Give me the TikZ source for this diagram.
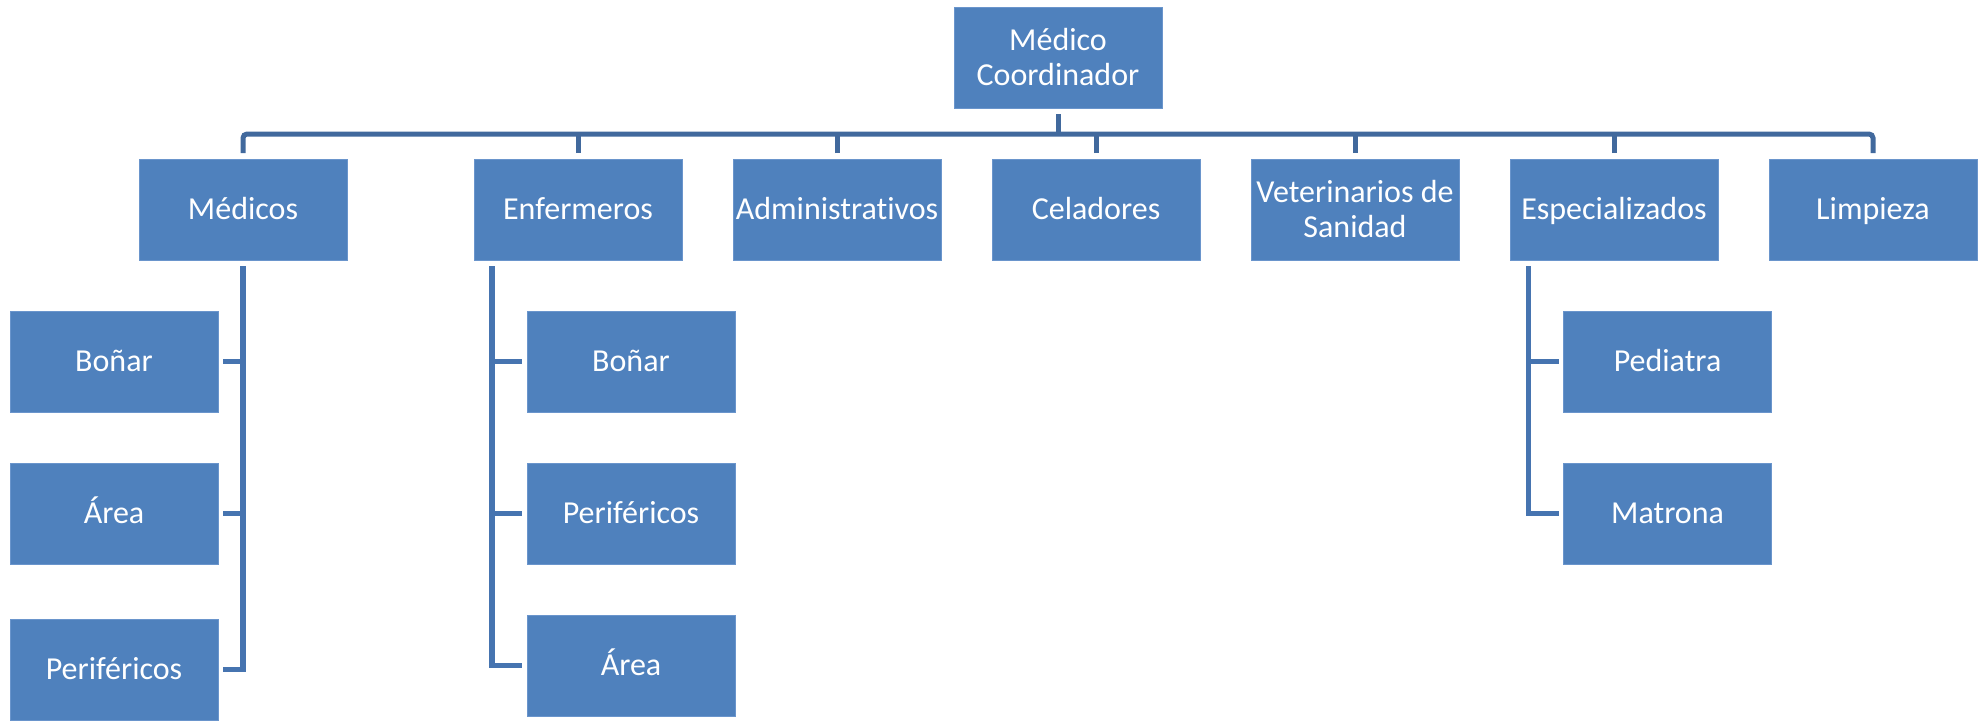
\documentclass[tikz,border=0pt]{standalone}
\usepackage{fontspec}
\setmainfont{Carlito}[Ligatures=NoCommon]
\definecolor{boxblue}{HTML}{4F81BD}
\definecolor{boxedge}{HTML}{6A95CC}
\definecolor{busblue}{HTML}{41699D}
\definecolor{linkblue}{HTML}{4674B0}
\tikzset{
  orgbox/.style={rectangle, fill=boxblue, draw=boxedge, line width=0.5pt,
    minimum width=104pt, minimum height=50.5pt, inner sep=0pt, outer sep=0pt,
    text=white, font=\fontsize{16}{17.5}\selectfont,
    text height=12pt, text depth=2.5pt},
  twoline/.style={align=center, text height=30pt, text depth=2.5pt},
  bus/.style={draw=busblue, line width=2.5pt},
  link/.style={draw=linkblue, line width=2.6pt}
}
\begin{document}
\begin{tikzpicture}[x=0.5pt, y=-0.5pt]
\useasboundingbox (0,0) rectangle (1984,720);
% top
\node[orgbox, twoline] (coord) at (1058,57.5) {Médico\\Coordinador};
% row 1
\node[orgbox] (med) at (243,209.5) {Médicos};
\node[orgbox] (enf) at (578,209.5) {Enfermeros};
\node[orgbox] (adm) at (837,209.5) {Administrativos};
\node[orgbox] (cel) at (1096,209.5) {Celadores};
\node[orgbox, twoline] (vet) at (1355,209.5) {Veterinarios de\\Sanidad};
\node[orgbox] (esp) at (1614,209.5) {Especializados};
\node[orgbox] (lim) at (1873,209.5) {Limpieza};
% Médicos children
\node[orgbox] (mb1) at (114,361.5) {Boñar};
\node[orgbox] (mb2) at (114,513.5) {Área};
\node[orgbox] (mb3) at (114,669.5) {Periféricos};
% Enfermeros children
\node[orgbox] (eb1) at (631,361.5) {Boñar};
\node[orgbox] (eb2) at (631,513.5) {Periféricos};
\node[orgbox] (eb3) at (631,665.5) {Área};
% Especializados children
\node[orgbox] (sp1) at (1667.5,361.5) {Pediatra};
\node[orgbox] (sp2) at (1667.5,513.5) {Matrona};
% bus
\draw[bus] ([yshift=-3pt]coord.south) -- ++(0,-10pt);
\draw[bus, rounded corners=2pt] ([yshift=3pt]med.north) -- ++(0,9.5pt) -| ([yshift=3pt]lim.north);
\foreach \n in {enf,adm,cel,vet,esp}
  \draw[bus] ([yshift=3pt]\n.north) -- ++(0,9.5pt);
% Médicos links
\foreach \c in {mb1,mb2,mb3}
  \draw[link] ([yshift=-3pt]med.south) |- ([xshift=2.5pt]\c.east);
% Enfermeros links
\foreach \c in {eb1,eb2,eb3}
  \draw[link] ([xshift=9pt,yshift=-3pt]enf.south west) |- ([xshift=-2.5pt]\c.west);
% Especializados links
\foreach \c in {sp1,sp2}
  \draw[link] ([xshift=9.25pt,yshift=-3pt]esp.south west) |- ([xshift=-2.5pt]\c.west);
\end{tikzpicture}
\end{document}
